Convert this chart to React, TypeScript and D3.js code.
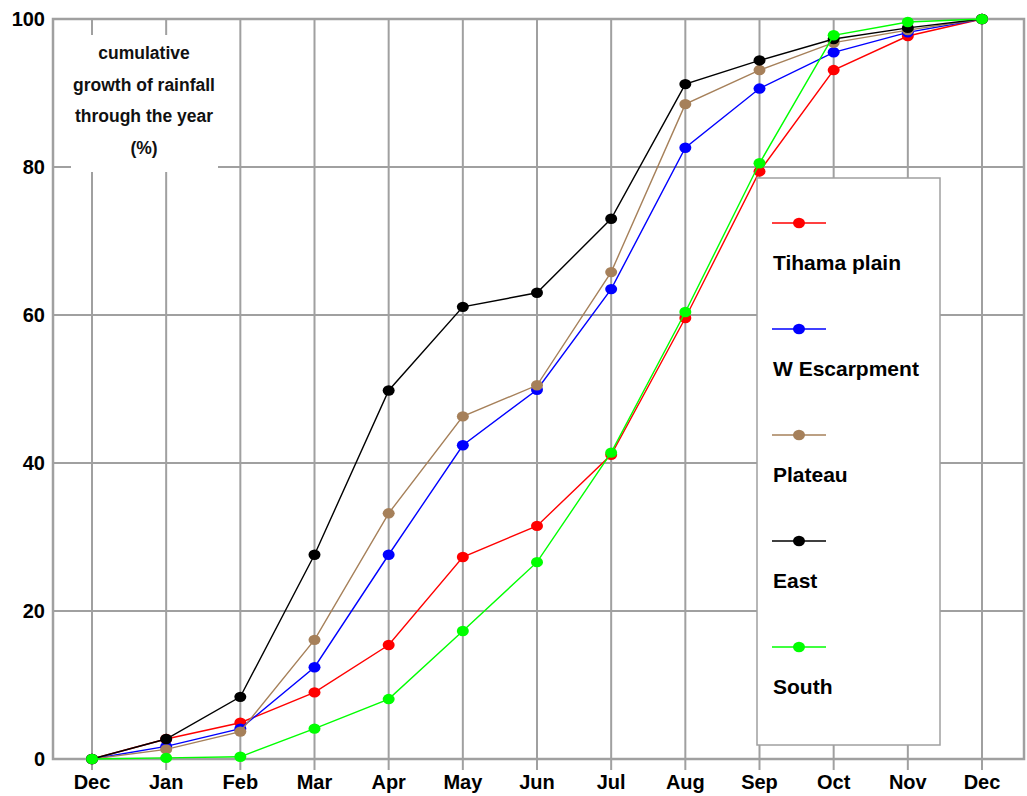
import React from "react";
import * as d3 from "d3";

const months = ["Dec", "Jan", "Feb", "Mar", "Apr", "May", "Jun", "Jul", "Aug", "Sep", "Oct", "Nov", "Dec"];
const yTicks = [0, 20, 40, 60, 80, 100];

const tihama = [0, 2.7, 4.9, 9.0, 15.4, 27.3, 31.5, 41.1, 59.6, 79.4, 93.1, 97.7, 100];
const wEscarpment = [0, 1.7, 4.1, 12.4, 27.6, 42.4, 49.9, 63.5, 82.6, 90.6, 95.5, 98.2, 100];
const plateau = [0, 1.3, 3.7, 16.1, 33.2, 46.3, 50.5, 65.8, 88.5, 93.1, 96.8, 98.5, 100];
const east = [0, 2.7, 8.4, 27.6, 49.8, 61.1, 63.0, 73.0, 91.2, 94.4, 97.3, 98.8, 100];
const south = [0, 0.15, 0.3, 4.1, 8.1, 17.3, 26.6, 41.4, 60.4, 80.5, 97.8, 99.6, 100];

const series = [
  { name: "Tihama plain", values: tihama, color: "#ff0000" },
  { name: "W Escarpment", values: wEscarpment, color: "#0000ff" },
  { name: "Plateau", values: plateau, color: "#a6805a" },
  { name: "East", values: east, color: "#000000" },
  { name: "South", values: south, color: "#00ff00" },
];

const annotation = ["cumulative", "growth of rainfall", "through the year", "(%)"];

export default function App() {
  const W = 1027, H = 796;
  const frame = { left: 53, right: 1024, top: 19, bottom: 759 };
  const x = d3.scaleLinear().domain([0, 12]).range([92, 982]);
  const y = d3.scaleLinear().domain([0, 100]).range([759, 19]);
  const line = d3.line<number>().x((_, i) => x(i)).y((d) => y(d));
  const font = "'Liberation Sans', Arial, sans-serif";
  const grid = "#a0a0a0";

  const legend = { x: 757, y: 178, w: 183, h: 567 };
  const legendStep = 106;

  return (
    <svg width={W} height={H} style={{ position: "absolute", left: 0, top: 0, background: "#fff" }} fontFamily={font}>
      <rect x={0} y={0} width={W} height={H} fill="#fff" />
      {yTicks.map((t) => (
        <line key={"h" + t} x1={frame.left} x2={frame.right} y1={y(t)} y2={y(t)} stroke={grid} strokeWidth={2} />
      ))}
      {months.map((m, i) => (
        <line key={"v" + i} x1={x(i)} x2={x(i)} y1={frame.top} y2={frame.bottom + 11} stroke={grid} strokeWidth={2} />
      ))}
      <rect x={frame.left} y={frame.top} width={frame.right - frame.left} height={frame.bottom - frame.top} fill="none" stroke={grid} strokeWidth={2.5} />

      <rect x={71} y={35} width={147} height={137} fill="#fff" />
      {annotation.map((t, i) => (
        <text key={t} x={144} y={53 + i * 31.7} textAnchor="middle" dominantBaseline="central" fontSize={17.5} fontWeight="bold" fill="#111">
          {t}
        </text>
      ))}

      {yTicks.map((t) => (
        <text key={"yl" + t} x={45} y={y(t)} textAnchor="end" dominantBaseline="central" fontSize={20} fontWeight="bold" fill="#000">
          {t}
        </text>
      ))}
      {months.map((m, i) => (
        <text key={"xl" + i} x={x(i)} y={782} textAnchor="middle" dominantBaseline="central" fontSize={20} fontWeight="bold" fill="#000">
          {m}
        </text>
      ))}

      {series.map((s) => (
        <g key={s.name}>
          <path d={line(s.values) || ""} fill="none" stroke={s.color} strokeWidth={1.4} />
          {s.values.map((v, i) => (
            <ellipse key={i} cx={x(i)} cy={y(v)} rx={6} ry={5.2} fill={s.color} />
          ))}
        </g>
      ))}

      <rect x={legend.x} y={legend.y} width={legend.w} height={legend.h} fill="#fff" stroke={grid} strokeWidth={1.5} />
      {series.map((s, i) => {
        const ly = 223 + i * legendStep;
        return (
          <g key={"lg" + s.name}>
            <line x1={772} x2={826} y1={ly} y2={ly} stroke={s.color} strokeWidth={1.4} />
            <ellipse cx={799} cy={ly} rx={6} ry={5.2} fill={s.color} />
            <text x={773} y={ly + 39} dominantBaseline="central" fontSize={21} fontWeight="bold" fill="#000">
              {s.name}
            </text>
          </g>
        );
      })}
    </svg>
  );
}
